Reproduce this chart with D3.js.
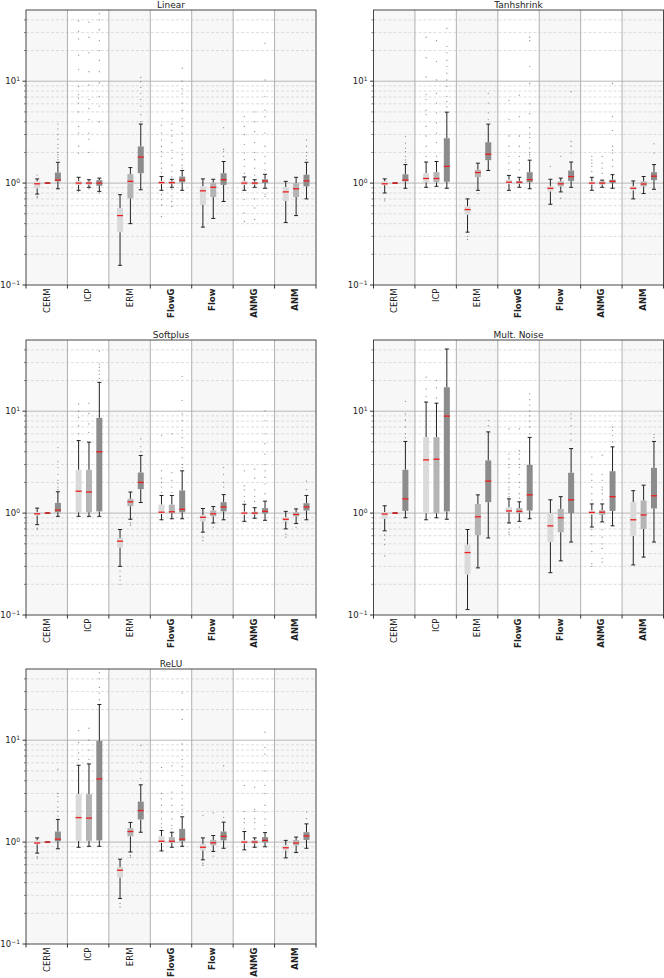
<!DOCTYPE html>
<html>
<head>
<meta charset="utf-8">
<script src="https://cdn.jsdelivr.net/npm/d3@7"></script>
<style>
  body { margin: 0; background: #fff; }
  svg { display: block; font-family: "DejaVu Sans", sans-serif; }
</style>
</head>
<body>
<svg id="chart"></svg>
<script>
const methods = ["CERM", "ICP", "ERM", "FlowG", "Flow", "ANMG", "ANM"];
const boldMethods = ["FlowG", "Flow", "ANMG", "ANM"];
const panelTitles = ["Linear", "Tanhshrink", "Softplus", "Mult. Noise", "ReLU"];
const majorTicks = [0.1, 1, 10];
const exponents = ["\u22121", "0", "1"];

// box stats: [whisker low, q1, median, q3, whisker high], three boxes per method
const linearBoxes = [
  [0.78, 0.89, 0.985, 1.04, 1.1], [1, 1, 1, 1, 1], [0.88, 1.04, 1.07, 1.27, 1.6],
  [0.85, 0.96, 1.0, 1.05, 1.14], [0.91, 0.97, 1.0, 1.03, 1.08], [0.83, 0.94, 1.0, 1.07, 1.12],
  [0.156, 0.33, 0.48, 0.57, 0.77], [0.40, 0.71, 1.04, 1.23, 1.42], [0.86, 1.25, 1.8, 2.29, 3.8],
  [0.85, 0.98, 1.01, 1.05, 1.16], [0.91, 0.99, 1.01, 1.04, 1.09], [0.85, 1.02, 1.07, 1.16, 1.33],
  [0.37, 0.61, 0.84, 0.93, 1.1], [0.45, 0.73, 0.91, 1.01, 1.09], [0.66, 0.96, 1.08, 1.25, 1.63],
  [0.85, 0.96, 1.0, 1.05, 1.15], [0.91, 0.97, 1.0, 1.03, 1.08], [0.89, 1.0, 1.05, 1.09, 1.22],
  [0.41, 0.67, 0.82, 0.91, 1.04], [0.48, 0.73, 0.88, 1.0, 1.14], [0.70, 0.93, 1.05, 1.21, 1.6]
];
const linearOutliers = [
  [0.72, 0.74, 1.2], [], [1.7, 1.8, 1.9, 2.0, 2.2, 2.4, 2.7, 3.0, 3.4, 3.8],
  [0.83, 1.97, 2.3, 3.1, 3.6, 5.0, 6.1, 6.8, 7.4, 8.9, 13, 18, 26, 31, 39],
  [0.88, 2.0, 2.7, 3.1, 4.2, 5.4, 6.6, 9.2, 12.4, 19, 27, 38],
  [0.8, 4.0, 5.7, 7.1, 9.6, 12.4, 16, 20, 25, 32, 40, 46],
  [], [], [4.0, 4.7, 5.7, 6.6, 7.6, 8.7, 9.9, 10.9],
  [0.47, 0.61, 0.69, 0.77, 1.27, 1.4, 1.57, 1.83, 2.04, 2.3, 2.66, 3.1, 3.7],
  [0.59, 0.66, 0.75, 0.87, 1.15, 1.3, 1.5, 1.75, 2.1, 2.5, 2.9, 3.3, 3.8],
  [1.4, 1.5, 1.7, 1.9, 2.2, 2.6, 3.1, 3.6, 4.3, 5.2, 6.1, 7.5, 8.4, 10, 13.4],
  [], [], [1.83, 2.04, 2.15, 3.5],
  [0.42, 0.51, 0.69, 1.25, 1.46, 1.7, 1.97, 2.4, 3.0, 3.6, 4.5],
  [0.44, 0.57, 0.7, 1.2, 1.4, 1.7, 2.0, 2.5, 3.2, 4.0, 5.0],
  [0.74, 0.78, 1.35, 1.57, 1.83, 2.3, 3.1, 4.5, 5.2, 7.1, 10.3, 23.6],
  [], [], [1.7, 1.85, 2.0, 2.3, 2.65]
];

const tanhBoxes = [
  [0.80, 0.955, 0.985, 1.04, 1.10], [1, 1, 1, 1, 1], [0.89, 1.04, 1.07, 1.22, 1.52],
  [0.91, 1.02, 1.11, 1.25, 1.61], [0.93, 1.02, 1.11, 1.28, 1.63], [0.89, 1.03, 1.46, 2.76, 4.97],
  [0.33, 0.49, 0.55, 0.59, 0.70], [0.85, 1.145, 1.27, 1.35, 1.57], [1.33, 1.68, 1.92, 2.52, 3.79],
  [0.85, 0.985, 1.02, 1.08, 1.19], [0.91, 0.985, 1.02, 1.05, 1.14], [0.88, 1.02, 1.08, 1.28, 1.68],
  [0.62, 0.83, 0.89, 0.93, 1.09], [0.82, 0.93, 0.985, 1.04, 1.12], [0.91, 1.05, 1.16, 1.33, 1.61],
  [0.85, 0.97, 1.0, 1.04, 1.14], [0.91, 0.97, 1.0, 1.04, 1.07], [0.89, 1.0, 1.04, 1.08, 1.21],
  [0.70, 0.85, 0.89, 0.93, 1.05], [0.79, 0.93, 0.98, 1.04, 1.16], [0.87, 1.07, 1.17, 1.28, 1.52]
];
const tanhOutliers = [
  [0.67, 0.70], [], [1.6, 1.69, 1.83, 2.04, 2.2, 2.47, 2.86],
  [1.83, 2.3, 2.9, 3.6, 4.7, 5.2, 6.6, 7.4, 11, 17, 27],
  [1.83, 2.5, 3.1, 3.9, 4.9, 6.1, 7.6, 10.3, 15.6, 25],
  [5.6, 6.3, 7.1, 8.9, 10.3, 12, 14, 16, 19, 22, 33],
  [0.28, 0.30], [0.79], [4.2, 4.9, 6.1, 7.6],
  [1.35, 1.57, 1.83, 2.3, 2.9, 4.2, 6.5],
  [1.35, 1.57, 1.83, 2.3, 2.9, 4.5, 7.3],
  [1.8, 1.9, 2.0, 2.2, 2.5, 2.8, 3.1, 3.5, 4.8, 6.0, 9.5, 14, 25, 27],
  [1.46], [0.71, 1.83], [1.97, 2.3, 2.56, 7.9],
  [1.3, 1.46, 1.57, 1.69, 1.83], [1.25, 1.4, 1.57, 1.83],
  [1.46, 1.69, 1.97, 2.1, 2.3, 3.3, 4.5, 9.5],
  [], [], [1.97, 2.43]
];

const softplusBoxes = [
  [0.77, 0.95, 0.985, 1.02, 1.12], [1, 1, 1, 1, 1], [0.93, 1.02, 1.07, 1.26, 1.62],
  [0.93, 1.02, 1.64, 2.66, 5.15], [0.93, 1.02, 1.61, 2.66, 4.97], [0.93, 1.04, 4.0, 8.6, 19.2],
  [0.30, 0.46, 0.53, 0.57, 0.69], [0.87, 1.17, 1.29, 1.38, 1.61], [1.27, 1.72, 2.0, 2.5, 3.68],
  [0.86, 0.98, 1.02, 1.21, 1.49], [0.88, 1.0, 1.03, 1.21, 1.49], [0.88, 1.02, 1.09, 1.67, 2.6],
  [0.65, 0.83, 0.91, 0.95, 1.11], [0.80, 0.93, 0.985, 1.06, 1.16], [0.86, 1.04, 1.15, 1.28, 1.52],
  [0.83, 0.97, 1.0, 1.03, 1.22], [0.89, 0.97, 1.0, 1.03, 1.13], [0.85, 0.99, 1.04, 1.12, 1.31],
  [0.70, 0.83, 0.87, 0.91, 1.04], [0.79, 0.93, 0.97, 1.02, 1.10], [0.86, 1.06, 1.15, 1.25, 1.49]
];
const softplusOutliers = [
  [0.69, 0.71], [], [1.7, 1.8, 1.95, 2.1, 2.4, 2.8, 3.2, 4.4],
  [6.0, 7.2, 8.7, 10, 11.8], [6.2, 7.5, 9.5, 12], [21, 23, 25, 27, 29, 39],
  [0.20, 0.22, 0.24, 0.27], [0.76, 0.8], [4.0, 4.5, 5.35],
  [1.6, 1.8, 2.0, 2.2, 2.6, 5.8], [1.6, 1.8, 2.1, 2.5, 6.0],
  [2.8, 3.0, 3.5, 4.4, 5.5, 6.5, 8.1, 9.4, 12.8, 22],
  [0.54, 0.58], [0.73], [1.8, 2.0, 2.4, 2.8],
  [1.3, 1.46, 1.69, 1.85, 2.6], [1.3, 1.46, 1.69, 2.2, 2.7],
  [1.55, 1.94, 2.25, 2.6, 3.0, 3.8, 4.8, 6.0, 8.1, 10.1],
  [0.58, 0.62], [0.73], [1.7, 2.06]
];

const multBoxes = [
  [0.67, 0.88, 0.98, 1.02, 1.18], [1, 1, 1, 1, 1], [0.90, 1.05, 1.38, 2.66, 5.05],
  [0.86, 1.0, 3.33, 5.57, 12.3], [0.90, 1.0, 3.38, 5.57, 12.0], [0.87, 1.04, 8.95, 17.2, 40.8],
  [0.113, 0.25, 0.41, 0.49, 0.69], [0.29, 0.61, 0.92, 1.23, 1.51], [0.57, 1.28, 2.06, 3.29, 6.27],
  [0.80, 1.02, 1.05, 1.14, 1.38], [0.83, 1.0, 1.04, 1.12, 1.29], [0.88, 1.06, 1.51, 2.98, 5.53],
  [0.26, 0.52, 0.75, 1.0, 1.35], [0.34, 0.65, 0.90, 1.10, 1.45], [0.52, 1.0, 1.35, 2.49, 4.3],
  [0.73, 0.97, 1.015, 1.06, 1.23], [0.82, 0.96, 1.02, 1.07, 1.23], [0.75, 1.05, 1.45, 2.58, 4.47],
  [0.31, 0.60, 0.86, 1.28, 1.66], [0.37, 0.70, 0.96, 1.33, 1.88], [0.52, 1.11, 1.48, 2.78, 5.05]
];
const multOutliers = [
  [0.61, 0.55, 0.49, 0.38], [], [5.5, 6.0, 7.0, 8.2, 9.4, 12.5],
  [14, 16.5, 21.6], [13.5, 17, 20], [],
  [], [], [7.2, 8.1],
  [0.62, 0.65, 0.70, 1.45, 1.55, 1.7, 1.8, 2.0, 2.2, 2.4, 2.8, 3.0, 3.4, 3.8, 6.7],
  [0.73, 1.4, 1.55, 1.8, 2.0, 2.4, 2.8, 3.0, 3.4, 3.8, 4.1, 6.7],
  [6.0, 7.0, 8.0, 9.0, 10, 11.5, 13, 14.8],
  [], [], [5.2, 6.0, 7.2, 8.5, 9.4],
  [1.35, 1.55, 1.8, 2.1, 2.4, 3.55, 0.69, 0.6, 0.5, 0.42, 0.32, 0.30],
  [1.35, 1.55, 1.7, 1.8, 2.1, 2.4, 3.7, 0.69, 0.58, 0.5, 0.45, 0.36, 0.33],
  [5.0, 5.8, 6.5, 7.0],
  [], [], [5.5, 5.9]
];

const reluBoxes = [
  [0.78, 0.955, 0.98, 1.04, 1.10], [1, 1, 1, 1, 1], [0.86, 1.02, 1.07, 1.27, 1.67],
  [0.89, 1.03, 1.74, 2.95, 5.68], [0.91, 1.03, 1.72, 2.95, 5.85], [0.91, 1.04, 4.17, 9.85, 22.4],
  [0.28, 0.45, 0.53, 0.57, 0.68], [0.80, 1.14, 1.27, 1.37, 1.56], [1.25, 1.67, 2.04, 2.5, 3.65],
  [0.82, 0.985, 1.02, 1.14, 1.30], [0.89, 0.985, 1.02, 1.12, 1.25], [0.91, 1.02, 1.07, 1.35, 1.77],
  [0.67, 0.83, 0.89, 0.96, 1.10], [0.81, 0.93, 0.985, 1.05, 1.16], [0.87, 1.04, 1.14, 1.27, 1.57],
  [0.84, 0.97, 1.0, 1.04, 1.27], [0.89, 0.97, 1.0, 1.04, 1.10], [0.90, 0.99, 1.04, 1.12, 1.24],
  [0.70, 0.83, 0.88, 0.93, 1.04], [0.79, 0.93, 0.98, 1.05, 1.12], [0.87, 1.05, 1.15, 1.25, 1.51]
];
const reluOutliers = [
  [0.69, 0.72], [], [1.8, 2.0, 2.2, 2.5, 2.8, 3.0, 5.2],
  [6.5, 7.5, 9.5, 12.4], [6.5, 8.0, 10, 13.1], [25, 29, 33, 40, 46],
  [0.23, 0.25], [0.71, 0.74], [4.2, 4.9, 6.1, 8.9],
  [1.4, 1.51, 1.69, 1.97, 2.3, 2.66, 3.0, 5.4],
  [1.35, 1.46, 1.69, 1.97, 2.3, 2.66, 3.1, 5.6],
  [1.9, 2.1, 2.3, 2.66, 3.1, 3.6, 4.5, 5.5, 6.5, 8.0, 9.2, 16, 20, 29],
  [0.59, 0.62, 1.82], [0.73, 1.94], [1.75, 1.97, 5.6],
  [1.35, 1.55, 1.7, 2.0, 3.6], [1.35, 1.55, 1.7, 2.0, 2.1, 3.46],
  [1.46, 1.69, 1.97, 2.3, 3.0, 3.6, 5.0, 7.3, 8.5, 12],
  [], [], [1.7, 1.97]
];

// Chart dimensions and panel placement
const width = 664;
const height = 978;
const panelW = 290;
const panelH = 275;
const panelPos = [[26, 10], [373.5, 10], [26, 340], [373.5, 340], [26, 669]];
const boxFill = ["#dadada", "#b4b4b4", "#8c8c8c"];
const boxOffset = [0.27, 0.52, 0.77];
const boxW = 6;

const svg = d3.select("#chart")
    .attr("width", width)
    .attr("height", height)
    .attr("viewBox", [0, 0, width, height]);

const drawPanel = (title, boxes, outliers, [left, top]) => {
    const g = svg.append("g").attr("transform", `translate(${left},${top})`);

    const x = d3.scaleBand(methods, [0, panelW]);
    const y = d3.scaleLog([0.1, 50], [panelH, 0]);

    // alternating group backgrounds
    g.selectAll(".bg")
        .data(methods)
        .join("rect")
        .attr("x", d => x(d))
        .attr("y", 0)
        .attr("width", x.bandwidth())
        .attr("height", panelH)
        .attr("fill", (d, i) => i % 2 == 0 ? "#f7f7f7" : "#fff");

    // minor grid
    const minor = [];
    [0.1, 1, 10].forEach(dec => d3.range(2, 10).forEach(k => {
        if (dec * k < 50) minor.push(dec * k);
    }));
    g.selectAll(".minor")
        .data(minor)
        .join("line")
        .attr("x1", 0).attr("x2", panelW)
        .attr("y1", d => y(d)).attr("y2", d => y(d))
        .attr("stroke", "#d4d4d4")
        .attr("stroke-width", 0.8)
        .attr("stroke-dasharray", "3,2");

    // major grid
    g.selectAll(".major")
        .data([1, 10])
        .join("line")
        .attr("x1", 0).attr("x2", panelW)
        .attr("y1", d => y(d)).attr("y2", d => y(d))
        .attr("stroke", "#b8b8b8")
        .attr("stroke-width", 1);

    // group separators
    g.selectAll(".sep")
        .data(methods.slice(1))
        .join("line")
        .attr("x1", d => x(d)).attr("x2", d => x(d))
        .attr("y1", 0).attr("y2", panelH)
        .attr("stroke", "#b0b0b0")
        .attr("stroke-width", 1);

    const items = boxes.map((b, i) => ({
        stats: b,
        pts: outliers[i],
        cx: x(methods[Math.floor(i / 3)]) + boxOffset[i % 3] * x.bandwidth(),
        k: i % 3
    }));

    // outlier points
    items.forEach(it => {
        g.selectAll(null)
            .data(it.pts)
            .join("circle")
            .attr("cx", it.cx)
            .attr("cy", d => y(d))
            .attr("r", 0.65)
            .attr("fill", "#444")
            .attr("opacity", 0.6);
    });

    const bx = g.selectAll(".box")
        .data(items)
        .join("g");

    // whiskers
    bx.append("line")
        .attr("x1", d => d.cx).attr("x2", d => d.cx)
        .attr("y1", d => y(d.stats[0])).attr("y2", d => y(d.stats[1]))
        .attr("stroke", "#222").attr("stroke-width", 1);
    bx.append("line")
        .attr("x1", d => d.cx).attr("x2", d => d.cx)
        .attr("y1", d => y(d.stats[3])).attr("y2", d => y(d.stats[4]))
        .attr("stroke", "#222").attr("stroke-width", 1);
    [0, 4].forEach(j => {
        bx.append("line")
            .attr("x1", d => d.cx - 2).attr("x2", d => d.cx + 2)
            .attr("y1", d => y(d.stats[j])).attr("y2", d => y(d.stats[j]))
            .attr("stroke", "#222").attr("stroke-width", 1);
    });

    // boxes
    bx.append("rect")
        .attr("x", d => d.cx - boxW / 2)
        .attr("width", boxW)
        .attr("y", d => y(d.stats[3]))
        .attr("height", d => Math.max(0, y(d.stats[1]) - y(d.stats[3])))
        .attr("fill", d => boxFill[d.k]);

    // medians
    bx.append("line")
        .attr("x1", d => d.cx - boxW / 2).attr("x2", d => d.cx + boxW / 2)
        .attr("y1", d => y(d.stats[2])).attr("y2", d => y(d.stats[2]))
        .attr("stroke", "#ee1c1c").attr("stroke-width", 1.3);

    // frame
    g.append("rect")
        .attr("width", panelW).attr("height", panelH)
        .attr("fill", "none")
        .attr("stroke", "#333")
        .attr("stroke-width", 0.9);

    // y ticks
    g.selectAll(".ytick")
        .data(majorTicks)
        .join("line")
        .attr("x1", -3.5).attr("x2", 0)
        .attr("y1", d => y(d)).attr("y2", d => y(d))
        .attr("stroke", "#333");
    g.selectAll(".yminor")
        .data(minor)
        .join("line")
        .attr("x1", -2).attr("x2", 0)
        .attr("y1", d => y(d)).attr("y2", d => y(d))
        .attr("stroke", "#333").attr("stroke-width", 0.6);

    const labels = g.selectAll(".ylab")
        .data(majorTicks)
        .join("text")
        .attr("x", -6)
        .attr("y", d => y(d))
        .attr("dy", "0.35em")
        .attr("text-anchor", "end")
        .attr("font-size", 8.5)
        .attr("fill", "#222");
    labels.append("tspan").text("10");
    labels.append("tspan")
        .attr("dy", "-0.45em")
        .attr("font-size", 6)
        .text((d, i) => exponents[i]);

    // x ticks at group boundaries
    g.selectAll(".xtick")
        .data(d3.range(methods.length + 1))
        .join("line")
        .attr("x1", i => i * x.bandwidth()).attr("x2", i => i * x.bandwidth())
        .attr("y1", panelH).attr("y2", panelH + 3.5)
        .attr("stroke", "#333");

    g.selectAll(".xlab")
        .data(methods)
        .join("text")
        .attr("transform", d => `translate(${x(d) + x.bandwidth() / 2},${panelH + 3.5}) rotate(-90)`)
        .attr("dy", "0.35em")
        .attr("text-anchor", "end")
        .attr("font-size", 8.5)
        .attr("font-weight", d => boldMethods.includes(d) ? "bold" : "normal")
        .attr("fill", "#222")
        .text(d => d);

    g.append("text")
        .attr("x", panelW / 2)
        .attr("y", -2)
        .attr("text-anchor", "middle")
        .attr("font-size", 9)
        .attr("fill", "#222")
        .text(title);
};

drawPanel(panelTitles[0], linearBoxes, linearOutliers, panelPos[0]);
drawPanel(panelTitles[1], tanhBoxes, tanhOutliers, panelPos[1]);
drawPanel(panelTitles[2], softplusBoxes, softplusOutliers, panelPos[2]);
drawPanel(panelTitles[3], multBoxes, multOutliers, panelPos[3]);
drawPanel(panelTitles[4], reluBoxes, reluOutliers, panelPos[4]);
</script>
</body>
</html>
